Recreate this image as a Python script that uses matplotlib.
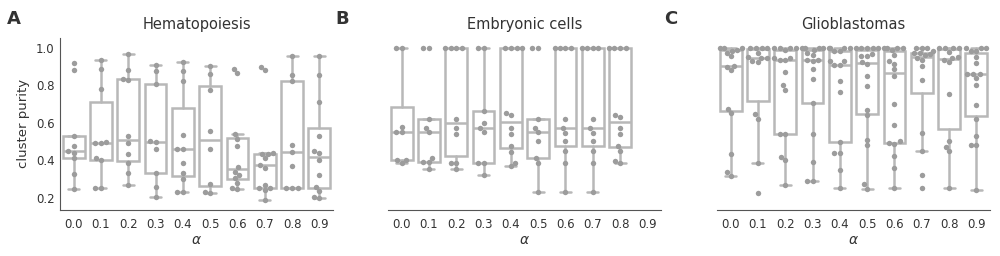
import numpy as np
import pandas as pd
import matplotlib
matplotlib.use("Agg")
import matplotlib.pyplot as plt
import seaborn as sns

alphas = ["0.0", "0.1", "0.2", "0.3", "0.4", "0.5", "0.6", "0.7", "0.8", "0.9"]

# cluster purity per alpha
hema = [
    [0.245, 0.325, 0.41, 0.44, 0.45, 0.475, 0.53, 0.88, 0.92],
    [0.253, 0.253, 0.40, 0.41, 0.49, 0.49, 0.50, 0.783, 0.885, 0.938],
    [0.266, 0.333, 0.383, 0.436, 0.49, 0.532, 0.83, 0.832, 0.881, 0.968],
    [0.205, 0.259, 0.33, 0.458, 0.497, 0.502, 0.808, 0.876, 0.908],
    [0.232, 0.232, 0.30, 0.33, 0.383, 0.458, 0.458, 0.534, 0.826, 0.879, 0.925],
    [0.223, 0.23, 0.271, 0.458, 0.556, 0.778, 0.863, 0.906],
    [0.248, 0.253, 0.28, 0.305, 0.321, 0.34, 0.365, 0.476, 0.515, 0.541, 0.867, 0.888],
    [0.19, 0.24, 0.25, 0.25, 0.27, 0.36, 0.375, 0.41, 0.435, 0.435, 0.44, 0.88, 0.9],
    [0.25, 0.25, 0.25, 0.369, 0.445, 0.484, 0.826, 0.858, 0.959],
    [0.2, 0.205, 0.236, 0.259, 0.321, 0.40, 0.44, 0.452, 0.529, 0.712, 0.858, 0.956],
]

embryo = [
    [0.383, 0.40, 0.40, 0.55, 0.55, 0.579, 1.0, 1.0],
    [0.351, 0.39, 0.39, 0.413, 0.55, 0.573, 0.621, 1.0, 1.0],
    [0.355, 0.387, 0.387, 0.538, 0.573, 0.621, 1.0, 1.0, 1.0, 1.0],
    [0.319, 0.383, 0.383, 0.55, 0.573, 0.60, 0.662, 1.0, 1.0],
    [0.369, 0.387, 0.444, 0.476, 0.538, 0.573, 0.64, 0.653, 1.0, 1.0, 1.0, 1.0],
    [0.23, 0.387, 0.413, 0.502, 0.55, 0.573, 0.621, 1.0, 1.0],
    [0.23, 0.387, 0.449, 0.502, 0.547, 0.573, 0.621, 1.0, 1.0, 1.0, 1.0],
    [0.23, 0.387, 0.449, 0.502, 0.547, 0.573, 0.621, 1.0, 1.0, 1.0, 1.0],
    [0.385, 0.396, 0.449, 0.476, 0.538, 0.573, 0.632, 0.644, 1.0, 1.0, 1.0, 1.0],
    [],
]

glio = [
    [0.316, 0.337, 0.435, 0.65, 0.675, 0.88, 0.90, 0.905, 0.955, 0.975, 0.985, 0.99, 1.0, 1.0, 1.0],
    [0.227, 0.383, 0.62, 0.645, 0.924, 0.93, 0.947, 0.947, 0.95, 0.973, 1.0, 1.0, 1.0, 1.0],
    [0.268, 0.40, 0.42, 0.538, 0.538, 0.778, 0.804, 0.87, 0.934, 0.934, 0.947, 0.947, 0.988, 1.0, 1.0, 1.0, 1.0],
    [0.29, 0.29, 0.39, 0.538, 0.707, 0.834, 0.885, 0.93, 0.938, 0.938, 0.96, 0.973, 0.988, 1.0, 1.0, 1.0, 1.0],
    [0.253, 0.346, 0.44, 0.44, 0.50, 0.764, 0.826, 0.91, 0.91, 0.929, 0.929, 0.982, 0.982, 1.0, 1.0, 1.0, 1.0],
    [0.248, 0.271, 0.479, 0.511, 0.64, 0.671, 0.796, 0.852, 0.915, 0.925, 0.955, 0.955, 0.965, 1.0, 1.0, 1.0, 1.0, 1.0],
    [0.25, 0.36, 0.422, 0.489, 0.492, 0.502, 0.586, 0.703, 0.849, 0.885, 0.916, 0.93, 0.964, 0.99, 1.0, 1.0, 1.0, 1.0],
    [0.253, 0.324, 0.449, 0.547, 0.831, 0.902, 0.935, 0.947, 0.96, 0.965, 0.973, 0.973, 0.982, 1.0, 1.0, 1.0],
    [0.25, 0.449, 0.472, 0.502, 0.755, 0.924, 0.934, 0.947, 0.95, 0.98, 1.0, 1.0, 1.0, 1.0],
    [0.239, 0.479, 0.479, 0.529, 0.618, 0.694, 0.80, 0.84, 0.863, 0.863, 0.863, 0.92, 0.952, 0.982, 0.982, 1.0, 1.0, 1.0],
]

panels = [("A", "Hematopoiesis", hema), ("B", "Embryonic cells", embryo), ("C", "Glioblastomas", glio)]

sns.set_style("white")
plt.rcParams["font.family"] = ["DejaVu Sans"]

box_col = "#b8b8b8"
dot_col = "#9c9c9c"
text_col = "#333333"

fig = plt.figure(figsize=(10, 2.56), dpi=100)
lefts = [0.060, 0.388, 0.717]
axes = [fig.add_axes([l, 0.18, 0.273, 0.673]) for l in lefts]

for ax, (letter, title, groups) in zip(axes, panels):
    pos = [i for i, g in enumerate(groups) if len(g)]
    data = [groups[i] for i in pos]
    ax.boxplot(data, positions=pos, widths=0.8, showfliers=False, manage_ticks=False,
               patch_artist=True,
               boxprops=dict(facecolor="white", edgecolor=box_col, linewidth=1.8),
               medianprops=dict(color=box_col, linewidth=1.8),
               whiskerprops=dict(color=box_col, linewidth=1.8),
               capprops=dict(color=box_col, linewidth=1.8), zorder=1)

    df = pd.DataFrame({"alpha": [alphas[i] for i in pos for _ in groups[i]],
                       "purity": [v for i in pos for v in groups[i]]})
    sns.swarmplot(data=df, x="alpha", y="purity", order=alphas, color=dot_col,
                  size=3.9, ax=ax, zorder=3)

    ax.set_xlim(-0.5, 9.5)
    ax.set_ylim(0.135, 1.055)
    ax.set_xticks(range(len(alphas)))
    ax.set_xticklabels(alphas, fontsize=8.5, color=text_col)
    ax.set_xlabel(r"$\alpha$", fontsize=10, color=text_col, labelpad=1)
    ax.set_title(title, fontsize=10.5, color=text_col)
    ax.tick_params(axis="x", length=0, pad=6)
    for s in ["top", "right"]:
        ax.spines[s].set_visible(False)
    ax.spines["bottom"].set_color("#555555")
    ax.spines["left"].set_color("#555555")

    if letter == "A":
        ax.set_yticks([0.2, 0.4, 0.6, 0.8, 1.0])
        ax.set_yticklabels(["0.2", "0.4", "0.6", "0.8", "1.0"], fontsize=8.5, color=text_col)
        ax.tick_params(axis="y", length=0, pad=4)
        ax.set_ylabel("cluster purity", fontsize=9.5, color=text_col)
    else:
        ax.spines["left"].set_visible(False)
        ax.set_yticks([])
        ax.set_ylabel("")

    x0 = ax.get_position().x0
    fig.text(x0 - 0.053, 0.925, letter, fontsize=13, fontweight="bold", color=text_col,
             va="center", ha="left")

fig.savefig("out.png", dpi=100)
